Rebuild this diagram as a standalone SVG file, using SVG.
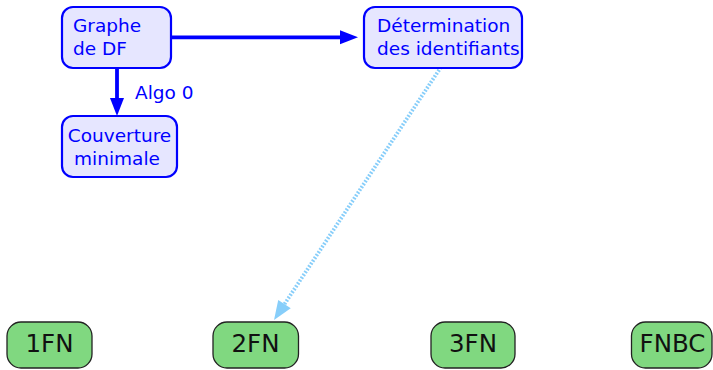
<svg xmlns="http://www.w3.org/2000/svg" width="713" height="370" viewBox="0 0 713 370">
  <style>
    .step rect { fill: #e6e6ff; stroke: #0000ff; stroke-width: 2.2; }
    .step text, .lbl { font-family: "DejaVu Sans", sans-serif; font-size: 18.5px; fill: #0000ff; }
    .nf rect { fill: #80d880; stroke: #222; stroke-width: 1.3; }
    .nf text { font-family: "DejaVu Sans", sans-serif; font-size: 24.5px; fill: #111; text-anchor: middle; }
    .solid { stroke: #0000ff; stroke-width: 3.8; fill: none; }
    .dotted { stroke: #87cefa; stroke-width: 3.8; stroke-dasharray: 1.8 1.6; fill: none; }
  </style>
  <defs>
    <!-- heads attach by their base so the shaft never pokes past the tip -->
    <marker id="headBlue" markerUnits="userSpaceOnUse" viewBox="0 0 18 14" refX="0" refY="7" markerWidth="18" markerHeight="14" orient="auto" overflow="visible">
      <path d="M0,0 L18,7 L0,14 Z" fill="#0000ff"/>
    </marker>
    <marker id="headSky" markerUnits="userSpaceOnUse" viewBox="0 0 19 15" refX="0" refY="7.5" markerWidth="19" markerHeight="15" orient="auto" overflow="visible">
      <path d="M0,0 L19,7.5 L0,15 Z" fill="#87cefa"/>
    </marker>
  </defs>

  <g id="connectors">
    <line class="solid" x1="171" y1="37.3" x2="340" y2="37.3" marker-end="url(#headBlue)"/>
    <line class="solid" x1="117" y1="68" x2="117" y2="98" marker-end="url(#headBlue)"/>
    <text class="lbl" x="135" y="98.5">Algo 0</text>
    <line class="dotted" x1="441" y1="67" x2="284.5" y2="304.1" marker-end="url(#headSky)"/>
  </g>

  <g id="graphe" class="step">
    <rect x="62" y="7" width="109" height="61" rx="11"/>
    <text x="73" y="32">Graphe</text>
    <text x="73" y="55">de DF</text>
  </g>
  <g id="couverture" class="step">
    <rect x="62" y="116" width="115" height="61" rx="11"/>
    <text x="119.5" y="141.5" text-anchor="middle">Couverture</text>
    <text x="117" y="165" text-anchor="middle">minimale</text>
  </g>
  <g id="determination" class="step">
    <rect x="364" y="7" width="158" height="61" rx="11"/>
    <text x="377" y="32">Détermination</text>
    <text x="377" y="55">des identifiants</text>
  </g>

  <g id="fn1" class="nf">
    <rect x="7" y="322" width="85" height="46" rx="14"/>
    <text x="49.5" y="351.5">1FN</text>
  </g>
  <g id="fn2" class="nf">
    <rect x="213" y="322" width="85.5" height="46" rx="14"/>
    <text x="255.5" y="351.5">2FN</text>
  </g>
  <g id="fn3" class="nf">
    <rect x="431" y="322" width="84" height="46" rx="14"/>
    <text x="473" y="351.5">3FN</text>
  </g>
  <g id="fnbc" class="nf">
    <rect x="631.5" y="322" width="80.5" height="46" rx="14"/>
    <text x="672.5" y="351.5">FNBC</text>
  </g>
</svg>
